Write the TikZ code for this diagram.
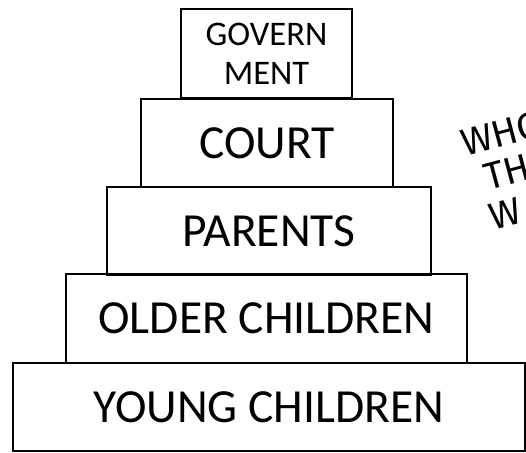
\documentclass[tikz,border=0pt]{standalone}
\usepackage{fontspec}
\setmainfont{Carlito}
\newfontfamily\handfont{Fira Sans}
\begin{document}
\begin{tikzpicture}[x=1pt,y=-1pt,
		tier/.style={draw,line width=1.5pt,inner sep=0pt,minimum height=88pt,font=\fontsize{47.5}{50}\selectfont},
		scrawl/.style={anchor=base west,rotate=15,inner sep=0pt,font=\handfont\fontsize{38}{40}\selectfont}]
		\useasboundingbox (0,0) rectangle (526,452);
		\clip (0,0) rectangle (526,452);
		\node[tier,minimum width=171pt,minimum height=89pt,align=center,font=\fontsize{34.5}{39}\selectfont] (gov) at (266.5,53.5) {GOVERN\\MENT};
		\node[tier,minimum width=252pt] (court) at (267,143) {COURT};
		\node[tier,minimum width=324pt] (parents) at (269,231) {PARENTS};
		\node[tier,minimum width=401pt,minimum height=89pt] (older) at (266.5,318.5) {OLDER CHILDREN};
		\node[tier,minimum width=512pt] (young) at (269,407) {YOUNG CHILDREN};
		% cut-off note on the right
		\node[scrawl] (who) at (465,157) {WHO};
		\node[scrawl] (th) at (488,191) {TH};
		\node[scrawl] (w) at (493,231) {W};
		\end{tikzpicture}
\end{document}
